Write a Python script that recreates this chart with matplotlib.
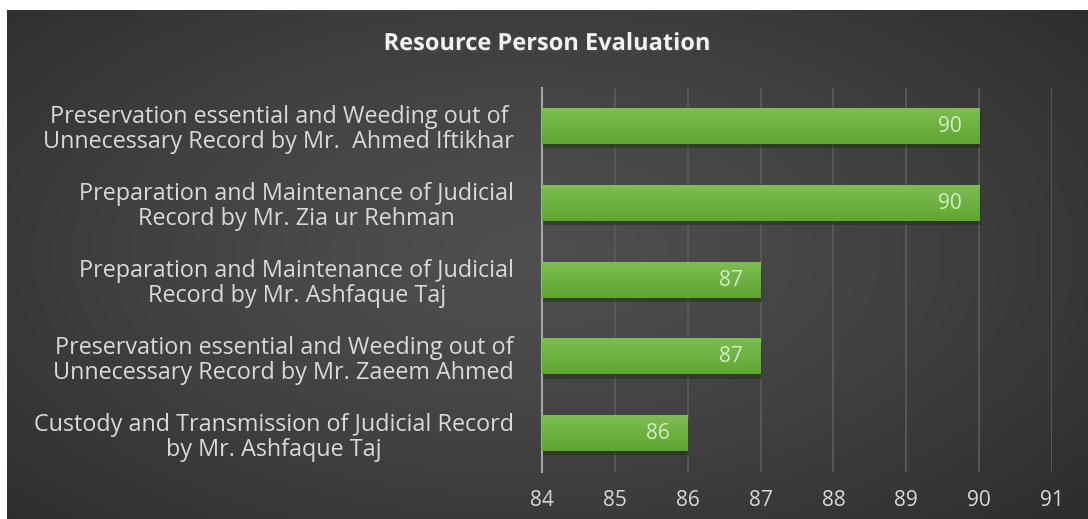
import numpy as np
import matplotlib
matplotlib.use('Agg')
import matplotlib.pyplot as plt
from matplotlib import patheffects as pe

# Chart data (top to bottom as shown)
labels = [
    'Preservation essential and Weeding out of\nUnnecessary Record by Mr.  Ahmed Iftikhar',
    'Preparation and Maintenance of Judicial\nRecord by Mr. Zia ur Rehman',
    'Preparation and Maintenance of Judicial\nRecord by Mr. Ashfaque Taj',
    'Preservation essential and Weeding out of\nUnnecessary Record by Mr. Zaeem Ahmed',
    'Custody and Transmission of Judicial Record\nby Mr. Ashfaque Taj',
]
scores = [90, 90, 87, 87, 86]
x_ticks = [84, 85, 86, 87, 88, 89, 90, 91]

W, H = 1088, 519
fig = plt.figure(figsize=(W / 100, H / 100), dpi=100, facecolor='white')

# Dark radial gradient background (chart area), white strip on top/left
bg = fig.add_axes([7 / W, 0, 1 - 7 / W, (H - 10) / H])
bg.set_axis_off()
gx, gy = np.meshgrid(np.linspace(0, 1, 400), np.linspace(0, 1, 200))
r = np.sqrt(((gx - 0.48) / 0.75) ** 2 + ((gy - 0.48) / 0.85) ** 2)
r = np.clip(r, 0, 1)
shade = 0.31 - 0.15 * r ** 1.3
img = np.dstack([shade, shade, shade])
bg.imshow(img, aspect='auto', extent=[0, 1, 0, 1], origin='upper')
bg.set_xlim(0, 1)
bg.set_ylim(0, 1)

ax = fig.add_axes([542 / W, 47 / H, 510 / W, 384 / H])
ax.set_facecolor('none')

y = np.arange(len(labels))
bars = ax.barh(y, [s - x_ticks[0] for s in scores], left=x_ticks[0],
               height=0.46, color='#6ab23d', zorder=3)
# soft vertical gradient on each bar (lighter on top)
grad = np.linspace(0, 1, 50).reshape(-1, 1)
top_c = np.array([0x7d, 0xbd, 0x52]) / 255
bot_c = np.array([0x60, 0xa6, 0x33]) / 255
grad_img = (top_c[None, None, :] * (1 - grad[..., None])
            + bot_c[None, None, :] * grad[..., None])
for b in bars:
    b.set_path_effects([pe.SimplePatchShadow(offset=(1, -3), alpha=0.55),
                        pe.Normal()])
    x0, y0, bw, bh = b.get_x(), b.get_y(), b.get_width(), b.get_height()
    ax.imshow(grad_img, extent=[x0, x0 + bw, y0 + bh, y0], aspect='auto',
              origin='upper', zorder=3.5, interpolation='bilinear')

for yi, s in zip(y, scores):
    ax.text(s - 0.24, yi, str(s), ha='right', va='center',
            color='#d6eac6', fontsize=15, family='Open Sans', zorder=4)

ax.set_xlim(x_ticks[0], x_ticks[-1])
ax.set_ylim(len(labels) - 0.5, -0.5)
ax.set_xticks(x_ticks)
ax.set_xticklabels([str(t) for t in x_ticks], fontsize=15,
                   color='#d9d9d9', family='Open Sans')
ax.set_yticks(y)
ax.set_yticklabels(labels, fontsize=16.8, color='#d9d9d9',
                   family='Open Sans', multialignment='center',
                   linespacing=1.05)
ax.tick_params(axis='both', length=0)
ax.tick_params(axis='y', pad=20)
ax.tick_params(axis='x', pad=13)
ax.grid(axis='x', color='#5c5c5c', linewidth=1.2, zorder=1)
for side in ['top', 'right', 'bottom']:
    ax.spines[side].set_visible(False)
ax.spines['left'].set_color('#a6a6a6')
ax.spines['left'].set_linewidth(1.5)
ax.spines['left'].set_zorder(2)

fig.text(547 / W, 1 - 44 / H, 'Resource Person Evaluation', ha='center',
         va='center', fontsize=17, fontweight='bold', color='#f2f2f2',
         family='Open Sans',
         path_effects=[pe.SimplePatchShadow(offset=(1.5, -1.5), alpha=0.8),
                       pe.Normal()])

fig.savefig('out.png', dpi=100, facecolor='white')
